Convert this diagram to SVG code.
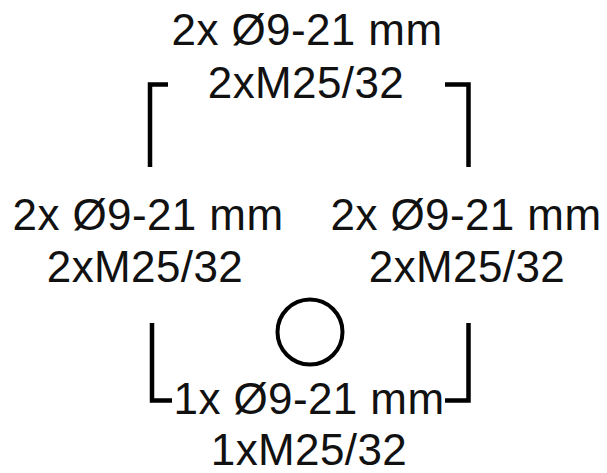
<svg xmlns="http://www.w3.org/2000/svg" width="607" height="473" viewBox="0 0 607 473">
<style>
.t{font-family:"Liberation Sans",Arial,sans-serif;font-size:44px;letter-spacing:0.4px;fill:#111;text-anchor:middle}
.b{fill:none;stroke:#000;stroke-width:4.5;stroke-linecap:butt;stroke-linejoin:miter}
</style>
<rect width="607" height="473" fill="#fff"/>
<g id="top">
<text class="t" x="307" y="45">2x Ø9-21 mm</text>
<text class="t" x="306" y="98">2xM25/32</text>
</g>
<g id="left">
<text class="t" x="148" y="230">2x Ø9-21 mm</text>
<text class="t" x="145" y="282">2xM25/32</text>
</g>
<g id="right">
<text class="t" x="466" y="230">2x Ø9-21 mm</text>
<text class="t" x="467" y="282">2xM25/32</text>
</g>
<g id="bottom">
<text class="t" x="309" y="414">1x Ø9-21 mm</text>
<text class="t" x="309" y="465">1xM25/32</text>
</g>
<g id="hole">
<circle cx="310" cy="332" r="32.5" fill="none" stroke="#000" stroke-width="4"/>
</g>
<g id="connectors">
<polyline class="b" points="168,84.5 150,84.5 150,167"/>
<polyline class="b" points="445,84.5 468.5,84.5 468.5,167"/>
<polyline class="b" points="152,323 152,400.5 172,400.5"/>
<polyline class="b" points="445,400.5 468.5,400.5 468.5,323"/>
</g>
</svg>
